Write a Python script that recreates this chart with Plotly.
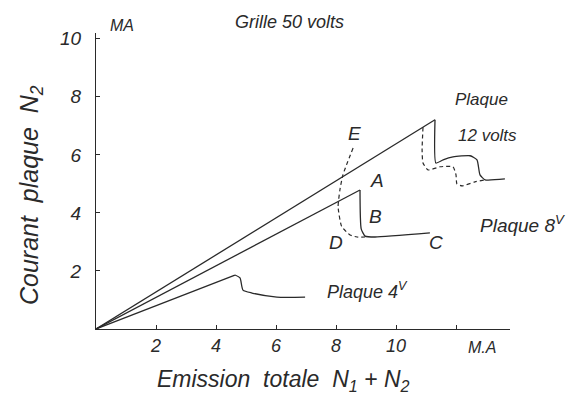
import plotly.graph_objects as go

# ---- data ----
# Plaque 12 volts: straight rise then drop and wiggle
p12_rise_x = [0, 11.3]
p12_rise_y = [0, 7.21]
p12_tail_x = [11.3, 11.33, 11.57, 11.9, 12.47, 12.7, 12.8, 12.97, 13.63]
p12_tail_y = [7.21, 5.72, 5.83, 5.93, 5.97, 5.83, 5.31, 5.14, 5.17]
p12_dash_x = [10.9, 10.87, 10.9, 11.07, 11.47, 11.9, 12.0, 12.03, 12.2, 12.63, 12.97]
p12_dash_y = [6.95, 6.17, 5.72, 5.48, 5.59, 5.59, 5.31, 5.0, 4.93, 5.07, 5.14]

# Plaque 8 volts: O -> A, drop to B, flat to C
p8_rise_x = [0, 8.8]
p8_rise_y = [0, 4.79]
p8_tail_x = [8.8, 8.84, 8.97, 9.3, 11.13]
p8_tail_y = [4.79, 3.45, 3.2, 3.17, 3.31]
# dashed E -> D path
ed_x = [8.57, 8.23, 8.13, 8.07, 8.19, 8.47, 8.7, 8.97]
ed_y = [6.24, 5.31, 4.79, 4.21, 3.53, 3.24, 3.17, 3.17]

# Plaque 4 volts
p4_rise_x = [0, 4.63]
p4_rise_y = [0, 1.86]
p4_tail_x = [4.63, 4.8, 4.9, 5.2, 6.03, 6.97]
p4_tail_y = [1.86, 1.76, 1.34, 1.24, 1.10, 1.10]

x_ticks = [2, 4, 6, 8, 10, 12]
x_ticktext = ["2", "4", "6", "8", "10", " "]
y_ticks = [2, 4, 6, 8, 10]
y_ticktext = ["2", "4", "6", "8", "10"]

# ---- layout geometry ----
W, H = 583, 398
ML, MR, MT, MB = 96, 73, 33, 69
PW, PH = W - ML - MR, H - MT - MB

INK = "#2a2a2a"
FONT = "Liberation Sans"


def px(xp, yp):
    """pixel position -> paper coords"""
    return (xp - ML) / PW, (H - MB - yp) / PH


fig = go.Figure()
line_solid = dict(color=INK, width=1.3)
line_dash = dict(color=INK, width=1.2, dash="4px,3px")

fig.add_trace(go.Scatter(x=p12_rise_x, y=p12_rise_y, mode="lines", line=line_solid))
fig.add_trace(go.Scatter(x=p12_tail_x, y=p12_tail_y, mode="lines",
                         line=dict(**line_solid, shape="spline", smoothing=0.5)))
fig.add_trace(go.Scatter(x=p12_dash_x, y=p12_dash_y, mode="lines",
                         line=dict(**line_dash, shape="spline", smoothing=0.5)))
fig.add_trace(go.Scatter(x=p8_rise_x, y=p8_rise_y, mode="lines", line=line_solid))
fig.add_trace(go.Scatter(x=p8_tail_x, y=p8_tail_y, mode="lines",
                         line=dict(**line_solid, shape="spline", smoothing=0.5)))
fig.add_trace(go.Scatter(x=ed_x, y=ed_y, mode="lines",
                         line=dict(**line_dash, shape="spline", smoothing=0.5)))
fig.add_trace(go.Scatter(x=p4_rise_x, y=p4_rise_y, mode="lines", line=line_solid))
fig.add_trace(go.Scatter(x=p4_tail_x, y=p4_tail_y, mode="lines",
                         line=dict(**line_solid, shape="spline", smoothing=0.6)))

annots = []


def label(text, xp, yp, size, angle=0):
    x, y = px(xp, yp)
    annots.append(dict(text=text, x=x, y=y, xref="paper", yref="paper",
                       showarrow=False, textangle=angle, xanchor="center", yanchor="middle",
                       font=dict(family=FONT, size=size, color=INK, style="italic")))


label("Grille 50 volts", 289, 22, 18)
label("MA", 122, 25, 16)
label("Plaque", 481, 100, 17)
label("12 volts", 487, 135, 17)
label("E", 354, 133, 19)
label("A", 377, 180, 19)
label("B", 375, 216, 19)
label("D", 336, 242, 19)
label("C", 436, 242, 19)
label("Plaque 8<sup>V</sup>", 522, 224, 19)
label("Plaque 4<sup>V</sup>", 367, 290, 18)
label("M.A", 482, 347, 16)
label("Emission  totale  N<sub>1</sub> + N<sub>2</sub>", 283, 380, 23)
label("Courant  plaque  N<sub>2</sub>", 31, 195, 25, -90)

fig.update_layout(
    width=W, height=H,
    margin=dict(l=ML, r=MR, t=MT, b=MB),
    paper_bgcolor="white", plot_bgcolor="white",
    showlegend=False,
    annotations=annots,
    font=dict(family=FONT, color=INK, style="italic"),
)
fig.update_xaxes(range=[0, 13.8], showgrid=False, zeroline=False,
                 showline=True, linecolor=INK, linewidth=1.3,
                 ticks="inside", ticklen=4, tickcolor=INK,
                 tickvals=x_ticks, ticktext=x_ticktext,
                 tickfont=dict(family=FONT, size=18, color=INK, style="italic"))
fig.update_yaxes(range=[0, 10.2], showgrid=False, zeroline=False,
                 showline=True, linecolor=INK, linewidth=1.3,
                 ticks="inside", ticklen=4, tickcolor=INK,
                 tickvals=y_ticks, ticktext=y_ticktext, ticklabelstandoff=10,
                 tickfont=dict(family=FONT, size=19, color=INK, style="italic"))

fig.write_html("out.html")
